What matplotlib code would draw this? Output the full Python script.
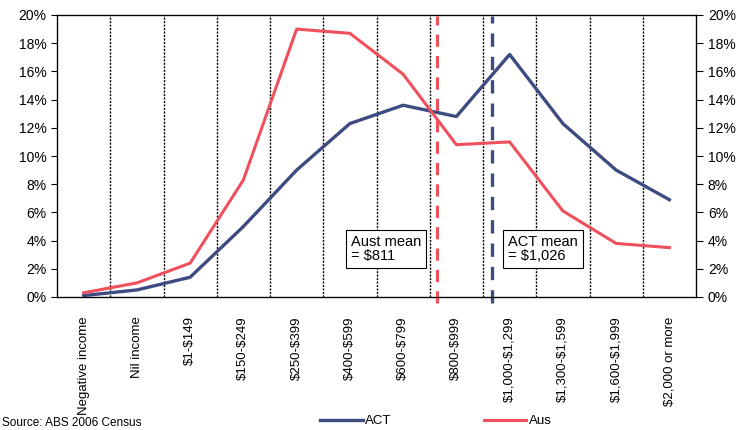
import matplotlib
matplotlib.use("Agg")
import matplotlib.pyplot as plt
from matplotlib.ticker import FuncFormatter, MultipleLocator
from matplotlib.lines import Line2D

plt.rcParams['font.family'] = ['Liberation Sans', 'DejaVu Sans']
plt.rcParams['text.parse_math'] = False

categories = ["Negative income", "Nil income", "$1-$149", "$150-$249", "$250-$399",
              "$400-$599", "$600-$799", "$800-$999", "$1,000-$1,299", "$1,300-$1,599",
              "$1,600-$1,999", "$2,000 or more"]
act = [0.1, 0.5, 1.4, 5.0, 9.0, 12.3, 13.6, 12.8, 17.2, 12.3, 9.0, 6.9]
aus = [0.3, 1.0, 2.4, 8.3, 19.0, 18.7, 15.8, 10.8, 11.0, 6.1, 3.8, 3.5]
aus_mean_pos = 6.64
act_mean_pos = 7.67

act_color = "#3d4b80"
aus_color = "#f0505c"

fig = plt.figure(figsize=(7.41, 4.30), dpi=100)
ax = fig.add_axes([57/741, 1 - 297/430, (696 - 57)/741, (297 - 15)/430])

x = list(range(len(categories)))
ax.plot(x, act, color=act_color, lw=2.4, label="ACT", zorder=3)
ax.plot(x, aus, color=aus_color, lw=2.2, label="Aus", zorder=3)

ax.set_xlim(-0.5, len(categories) - 0.5)
ax.set_ylim(0, 20)
ax.yaxis.set_major_locator(MultipleLocator(2))
fmt = FuncFormatter(lambda v, p: f"{v:.0f}%")
ax.yaxis.set_major_formatter(fmt)

# vertical dotted gridlines at category boundaries
for b in range(1, len(categories)):
    ax.axvline(b - 0.5, color="black", lw=1.0, ls=(0, (1.5, 1)), zorder=1)

ax.set_xticks(x)
ax.set_xticklabels(categories, rotation=90, fontsize=9.5, va="top", ha="center")
ax.tick_params(axis="x", length=0, pad=14)
ax.tick_params(axis="y", labelsize=10, length=4, direction="out")

for s in ax.spines.values():
    s.set_linewidth(0.9)

ax2 = ax.twinx()
ax2.set_ylim(0, 20)
ax2.yaxis.set_major_locator(MultipleLocator(2))
ax2.yaxis.set_major_formatter(fmt)
ax2.tick_params(axis="y", labelsize=10, length=5, direction="out")

# mean lines
ax.plot([aus_mean_pos, aus_mean_pos], [-0.4, 19.9], color=aus_color, lw=2.2,
        ls=(0, (4, 3)), clip_on=False, zorder=4)
ax.plot([act_mean_pos, act_mean_pos], [-0.4, 19.9], color=act_color, lw=2.4,
        ls=(0, (4, 3)), clip_on=False, zorder=4)

box = dict(boxstyle="square,pad=0.35", fc="white", ec="black", lw=0.8)
ax.text(5.02, 3.4, "Aust mean\n= $811", fontsize=10.5, ha="left", va="center",
        bbox=box, zorder=5, linespacing=1.0)
ax.text(7.97, 3.4, "ACT mean\n= $1,026", fontsize=10.5, ha="left", va="center",
        bbox=box, zorder=5, linespacing=1.0)

handles = [Line2D([], [], color=act_color, lw=2.4), Line2D([], [], color=aus_color, lw=2.2)]
fig.legend(handles, ["ACT", "Aus"], loc="center", bbox_to_anchor=(436/741, 1 - 421/430),
           ncol=2, frameon=False, fontsize=9.5, handlelength=3.2, handletextpad=0.2,
           columnspacing=7)

fig.text(2/741, 1 - 423/430, "Source: ABS 2006 Census", fontsize=8.5, ha="left", va="center")

fig.savefig("out.png", dpi=100)
